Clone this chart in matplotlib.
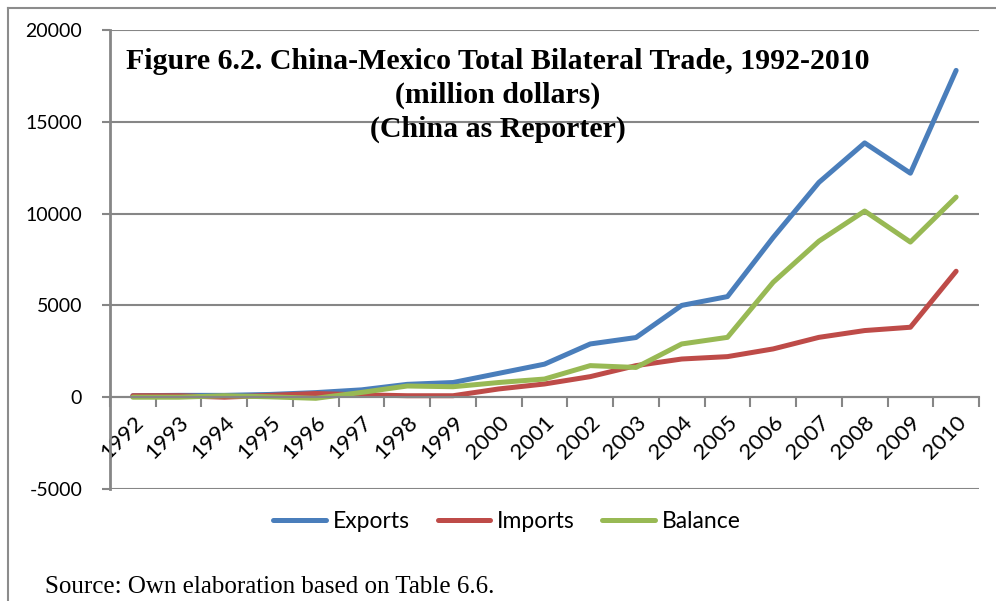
import matplotlib.pyplot as plt
from matplotlib.lines import Line2D

plt.rcParams['axes.unicode_minus'] = False

years = [str(y) for y in range(1992, 2011)]
exports = [80, 100, 100, 150, 250, 400, 700, 800, 1300, 1800, 2900,
           3250, 5000, 5480, 8700, 11700, 13850, 12200, 17800]
imports = [80, 80, 0, 100, 200, 130, 80, 80, 450, 720, 1120,
           1720, 2080, 2210, 2630, 3260, 3630, 3810, 6860]
balance = [0, 0, 80, 20, -60, 260, 610, 570, 800, 990, 1720,
           1620, 2900, 3260, 6260, 8500, 10140, 8450, 10900]

grid_col = '#868686'
fig = plt.figure(figsize=(9.96, 6.01), dpi=100)
ax = fig.add_axes([110/996, 1-489/601, 869/996, 459/601])

x = list(range(len(years)))
ax.plot(x, exports, color='#4A7EBB', lw=3.6, label='Exports', solid_capstyle='round')
ax.plot(x, imports, color='#BE4B48', lw=3.6, label='Imports', solid_capstyle='round')
ax.plot(x, balance, color='#98B954', lw=3.6, label='Balance', solid_capstyle='round')

ax.set_xlim(-0.5, len(years) - 0.5)
ax.set_ylim(-5000, 20000)
ax.set_yticks(range(-5000, 20001, 5000))
ax.yaxis.grid(True, color=grid_col, lw=1.5)
ax.set_axisbelow(True)

for s in ['top', 'right']:
    ax.spines[s].set_visible(False)
ax.spines['left'].set_color(grid_col)
ax.spines['left'].set_linewidth(2)
ax.spines['bottom'].set_position(('data', 0))
ax.spines['bottom'].set_color(grid_col)
ax.spines['bottom'].set_linewidth(1.5)

ax.tick_params(axis='y', direction='out', length=6, width=1.5, color=grid_col,
               labelsize=14, pad=14)
for lab in ax.get_yticklabels():
    lab.set_family('Lato')

# boundary ticks on the zero line, labels at category centres
ax.set_xticks([i - 0.5 for i in range(len(years) + 1)])
ax.set_xticklabels([])
ax.tick_params(axis='x', which='major', direction='out', length=7, width=1.5,
               color=grid_col)
ax.set_xticks(x, minor=True)
ax.set_xticklabels(years, minor=True, rotation=45, ha='right',
                   rotation_mode='anchor', fontsize=16, family='Lato')
ax.tick_params(axis='x', which='minor', length=0, pad=11)

ax.text(0.446, 0.96, 'Figure 6.2. China-Mexico Total Bilateral Trade, 1992-2010\n'
        '(million dollars)\n(China as Reporter)', transform=ax.transAxes,
        ha='center', va='top', fontsize=21.5, fontweight='bold',
        family='Liberation Serif', linespacing=1.32)

leg = ax.legend(loc='upper center', bbox_to_anchor=(0.457, -0.004), ncol=3,
                frameon=False, prop={'family': 'Lato', 'size': 16.5},
                handlelength=2.3, columnspacing=1.2, handletextpad=0.3)

fig.text(45/996, 1-593/601, 'Source: Own elaboration based on Table 6.6.',
         fontsize=18, family='Liberation Serif', va='baseline')

# chart area border
fig.add_artist(Line2D([8/996, 1], [1-8/601, 1-8/601], color='#8c8c8c', lw=1.5,
                      transform=fig.transFigure))
fig.add_artist(Line2D([8/996, 8/996], [0, 1-8/601], color='#8c8c8c', lw=1.5,
                      transform=fig.transFigure))

fig.savefig('out.png', dpi=100)
